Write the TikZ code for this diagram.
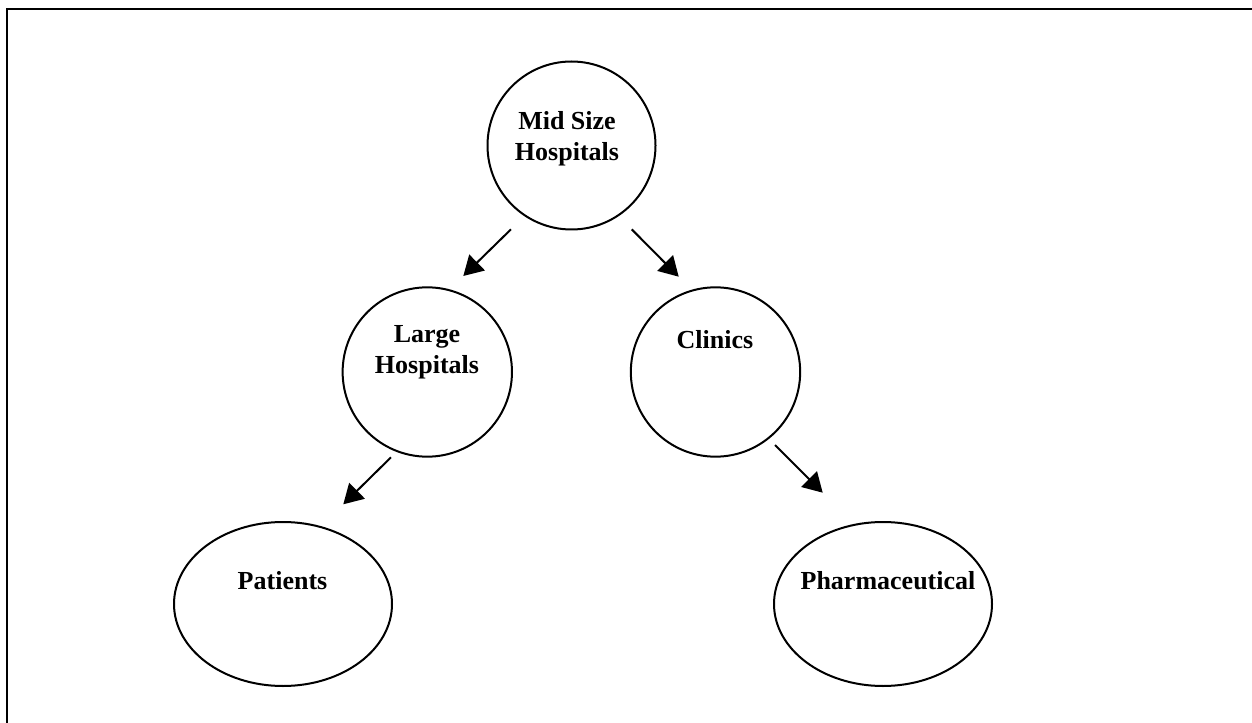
\documentclass[tikz,border=0pt]{standalone}
\usepackage{fontspec}
\setmainfont{Liberation Serif}
\usetikzlibrary{shapes.geometric,arrows.meta}

\tikzset{
  ring/.style={draw, circle, line width=1.5pt, inner sep=0pt},
  oval/.style={draw, ellipse, line width=1.5pt, inner sep=0pt,
               minimum width=163.5pt, minimum height=123pt},
  caption/.style={font=\fontsize{19.5}{23.25}\selectfont\bfseries, align=center, inner sep=0pt},
  link/.style={line width=1.5pt, -{Triangle[length=14.5pt, width=16.5pt]}},
  frame/.style={line width=1.8pt}
}

\begin{document}
\begin{tikzpicture}[x=0.75pt, y=-0.75pt]
  \useasboundingbox (0,0) rectangle (1252,723);

  % page frame (top and left edges)
  \coordinate (fa) at (1252,9);
  \coordinate (fb) at (7,9);
  \coordinate (fc) at (7,723);
  \draw[frame] (fa) -- (fb) -- (fc);

  % shapes
  \node[ring, minimum size=126pt]   (mid)    at (571.5,145.5) {};
  \node[ring, minimum size=127pt]   (large)  at (427.3,372) {};
  \node[ring, minimum size=127pt]   (clinic) at (715.5,372) {};
  \node[oval] (pat)   at (283,604) {};
  \node[oval] (pharm) at (883,604) {};

  % labels
  \node[caption] (tmid)    at (567,138.5) {Mid Size\\Hospitals};
  \node[caption] (tlarge)  at (427,352.5) {Large\\Hospitals};
  \node[caption, anchor=base] (tclinic) at (715,349) {Clinics};
  \node[caption, anchor=base] (tpat)    at (282.5,589) {Patients};
  \node[caption, anchor=base] (tpharm)  at (888,589) {Pharmaceutical};

  % connector end points
  \coordinate (a1) at (511,229.3);
  \coordinate (a2) at (463.3,276);
  \coordinate (b1) at (631.7,229.3);
  \coordinate (b2) at (678.7,276.7);
  \coordinate (c1) at (391,457.3);
  \coordinate (c2) at (343.3,504.3);
  \coordinate (d1) at (775,445);
  \coordinate (d2) at (822.7,492.7);

  \draw[link] (a1) -- (a2);
  \draw[link] (b1) -- (b2);
  \draw[link] (c1) -- (c2);
  \draw[link] (d1) -- (d2);
\end{tikzpicture}
\end{document}
